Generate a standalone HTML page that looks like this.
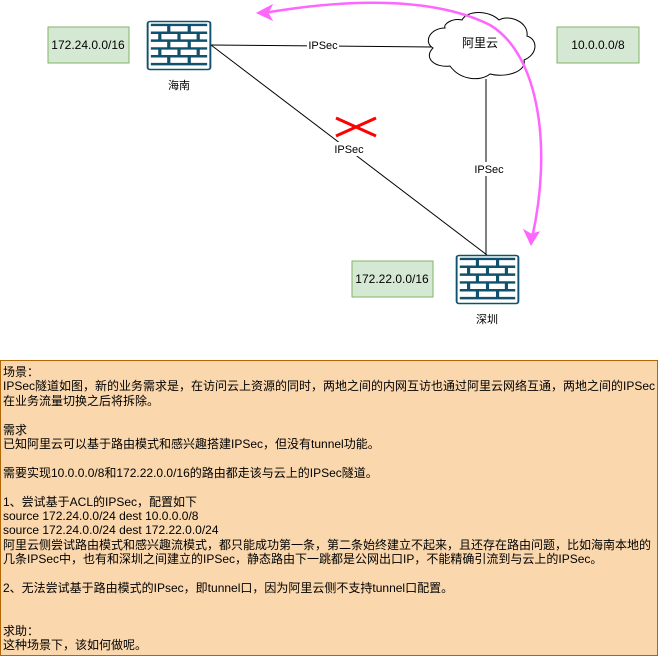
<!DOCTYPE html>
<html><head><meta charset="utf-8"><style>
body{margin:0;width:660px;height:657px;background:#fff;position:relative;overflow:hidden;font-family:"Liberation Sans","Noto Sans CJK SC",sans-serif}
.t{position:absolute;left:0;top:360px;width:658px;height:296px;background:#fad7ac;border:1px solid #b46504;font-size:12px;padding:4px 0 0 2px;box-sizing:border-box;white-space:pre;color:#000}
.t div{height:14.4px;line-height:14.4px;overflow:visible}
</style></head><body>
<svg width="660" height="360" style="position:absolute;left:0;top:0" font-family="Liberation Sans, Noto Sans CJK SC, sans-serif" font-size="12">
<defs>
<g id="fw">
<rect x="0.5" y="0.5" width="49" height="49" rx="2" fill="#fff" stroke="#10516e" stroke-width="1.5"/>
<g stroke="#10516e" stroke-width="2.5" fill="none">
<path d="M3 4H47M3 12H47M3 20H47M3 28H47M3 36H47M3 44H47"/>
<path d="M17 4V12M33 4V12M10 12V20M25 12V20M40 12V20M17 20V28M33 20V28M10 28V36M25 28V36M40 28V36M17 36V44M33 36V44"/>
</g>
</g>
</defs>
<rect x="48" y="27" width="81" height="36" fill="#d5e8d4" stroke="#82b366"/>
<text x="88" y="49" text-anchor="middle">172.24.0.0/16</text>
<rect x="557" y="27" width="82" height="36" fill="#d5e8d4" stroke="#82b366"/>
<text x="598" y="49" text-anchor="middle">10.0.0.0/8</text>
<rect x="352" y="261" width="81" height="36" fill="#d5e8d4" stroke="#82b366"/>
<text x="392" y="283" text-anchor="middle">172.22.0.0/16</text>
<path d="M211 45 L432 47" stroke="#000"/>
<path d="M211 45 L487 255" stroke="#000"/>
<path d="M486 79 L486 255" stroke="#000"/>
<path d="M445 28 C430 28 423 42 433 48 C423 58 435 68 450 66 C460 80 480 82 490 74 C505 78 527 72 524 60 C537 55 539 40 527 36 C529 22 509 14 499 20 C489 10 467 10 462 20 C452 18 443 24 445 28 Z" fill="#fff" stroke="#000"/>
<text x="480" y="47" text-anchor="middle">阿里云</text>
<rect x="307" y="38" width="32" height="14" fill="#fff"/>
<text x="323" y="49" text-anchor="middle" font-size="11">IPSec</text>
<rect x="332" y="142" width="34" height="14" fill="#fff"/>
<text x="349" y="153" text-anchor="middle" font-size="11">IPSec</text>
<rect x="472" y="162" width="34" height="14" fill="#fff"/>
<text x="489" y="173" text-anchor="middle" font-size="11">IPSec</text>
<path d="M336 118 L376 136 M336 136 L376 118" stroke="#f00" stroke-width="3"/>
<use href="#fw" transform="translate(147,21) scale(1.28,0.98)"/>
<use href="#fw" transform="translate(456,255) scale(1.26,0.98)"/>
<text x="179" y="89" text-anchor="middle" font-size="11">海南</text>
<text x="487" y="323" text-anchor="middle" font-size="11">深圳</text>
<path d="M264 13 C340 0 430 -5 490 25 C540 55 552 150 532 238" fill="none" stroke="#ff66ff" stroke-width="2.5"/>
<path d="M257 13 L272 5 L268 13 L272 20 Z" fill="#ff66ff" stroke="#ff66ff"/>
<path d="M531 245 L524 230 L531 234 L539 232 Z" fill="#ff66ff" stroke="#ff66ff"/>
</svg>
<div class="t"><div>场景：</div><div>IPSec隧道如图，新的业务需求是，在访问云上资源的同时，两地之间的内网互访也通过阿里云网络互通，两地之间的IPSec</div><div>在业务流量切换之后将拆除。</div><div> </div><div>需求</div><div>已知阿里云可以基于路由模式和感兴趣搭建IPSec，但没有tunnel功能。</div><div> </div><div>需要实现10.0.0.0/8和172.22.0.0/16的路由都走该与云上的IPSec隧道。</div><div> </div><div>1、尝试基于ACL的IPSec，配置如下</div><div>source 172.24.0.0/24 dest 10.0.0.0/8</div><div>source 172.24.0.0/24 dest 172.22.0.0/24</div><div>阿里云侧尝试路由模式和感兴趣流模式，都只能成功第一条，第二条始终建立不起来，且还存在路由问题，比如海南本地的</div><div>几条IPSec中，也有和深圳之间建立的IPSec，静态路由下一跳都是公网出口IP，不能精确引流到与云上的IPSec。</div><div> </div><div>2、无法尝试基于路由模式的IPsec，即tunnel口，因为阿里云侧不支持tunnel口配置。</div><div> </div><div> </div><div>求助：</div><div>这种场景下，该如何做呢。</div></div>
</body></html>
